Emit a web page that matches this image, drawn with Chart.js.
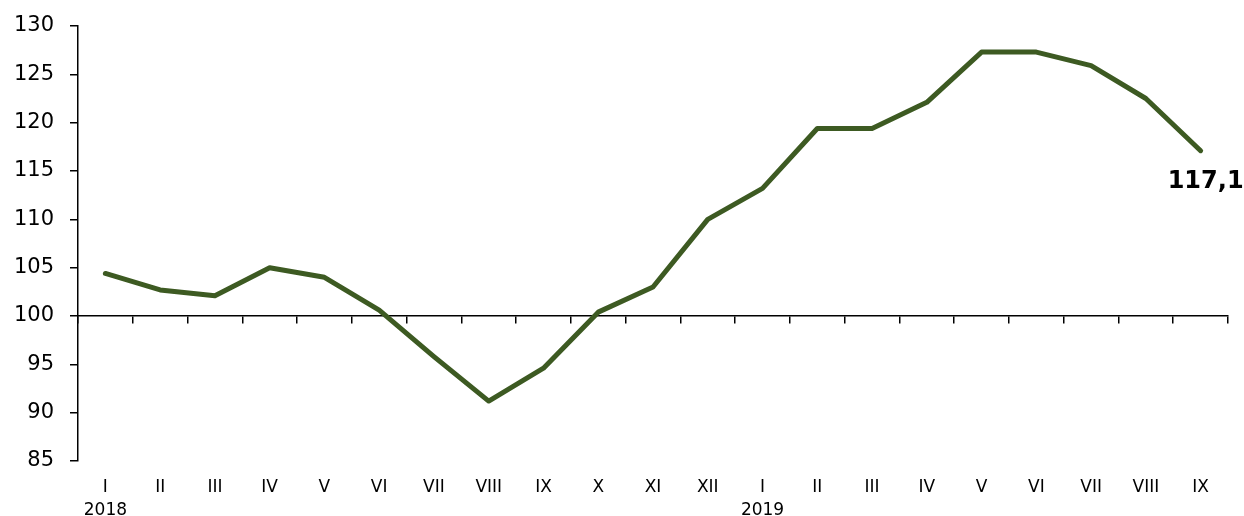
<!DOCTYPE html>
<html>
<head>
<meta charset="utf-8">
<script src="https://cdn.jsdelivr.net/npm/chart.js@4"></script>
<style>
    html, body { margin: 0; padding: 0; background: #ffffff; }
    #wrap { width: 1244px; height: 516px; position: relative; }
</style>
</head>
<body>
<div id="wrap"><canvas id="indexChart" width="1244" height="516"></canvas></div>
<script>
//********************************************************************************
///Data
//********************************************************************************
const months = ['I', 'II', 'III', 'IV', 'V', 'VI', 'VII', 'VIII', 'IX', 'X', 'XI', 'XII',
                'I', 'II', 'III', 'IV', 'V', 'VI', 'VII', 'VIII', 'IX'];
const years = ['2018', '', '', '', '', '', '', '', '', '', '', '',
               '2019', '', '', '', '', '', '', '', ''];
const indexValues = [104.4, 102.7, 102.1, 105.0, 104.0, 100.6, 95.8, 91.2, 94.6, 100.4, 103.0, 110.0,
                     113.2, 119.4, 119.4, 122.1, 127.3, 127.3, 125.9, 122.5, 117.1];
const lastLabel = '117,1';

// two-line tick labels: month on top, year below where needed
const axisLabels = months.map((m, i) => years[i] ? [m, years[i]] : m);

//********************************************************************************
///Last value label
//********************************************************************************
const lastValuePlugin = {
    id: 'lastValue',
    afterDatasetsDraw(chart) {
        const meta = chart.getDatasetMeta(0);
        const pt = meta.data[meta.data.length - 1];
        const ctx = chart.ctx;
        ctx.save();
        ctx.font = 'bold 24px "DejaVu Sans", Verdana, sans-serif';
        ctx.fillStyle = '#000000';
        ctx.textAlign = 'center';
        ctx.textBaseline = 'middle';
        ctx.fillText(lastLabel, pt.x + 5, pt.y + 31);
        ctx.restore();
    }
};

//********************************************************************************
///Chart
//********************************************************************************
const chart = new Chart(document.getElementById('indexChart'), {
    type: 'line',
    data: {
        labels: axisLabels,
        datasets: [{
            data: indexValues,
            borderColor: '#3d5a22',
            borderWidth: 5,
            pointRadius: 0,
            tension: 0,
            borderJoinStyle: 'round',
            borderCapStyle: 'round',
            xAxisID: 'x'
        }]
    },
    options: {
        responsive: false,
        animation: false,
        layout: { padding: { top: 26, right: 16, left: 4, bottom: 0 } },
        plugins: {
            legend: { display: false },
            tooltip: { enabled: false }
        },
        scales: {
            // axis line crossing at 100, only tick marks
            x: {
                type: 'category',
                position: { y: 100 },
                offset: true,
                afterFit: (scale) => { scale.height = 0; },
                grid: { drawOnChartArea: false, drawTicks: true, tickLength: 7, color: '#000000', lineWidth: 1.5, offset: true },
                border: { display: true, color: '#000000', width: 1.5 },
                ticks: { display: false }
            },
            // labels at the bottom
            x2: {
                type: 'category',
                position: 'bottom',
                labels: axisLabels,
                offset: true,
                afterFit: (scale) => { scale.height = 55; },
                grid: { display: false, drawTicks: false },
                border: { display: false },
                ticks: {
                    autoSkip: false,
                    maxRotation: 0,
                    color: '#000000',
                    padding: 16,
                    font: { family: '"DejaVu Sans", Verdana, sans-serif', size: 17, lineHeight: 1.3 }
                }
            },
            y: {
                min: 85,
                max: 130,
                afterFit: (scale) => { scale.width = 74; scale.paddingTop = 0; },
                grid: { drawOnChartArea: false, drawTicks: true, tickLength: 8, color: '#000000', lineWidth: 1.5 },
                border: { display: true, color: '#000000', width: 1.5 },
                ticks: {
                    stepSize: 5,
                    color: '#000000',
                    padding: 16,
                    font: { family: '"DejaVu Sans", Verdana, sans-serif', size: 21 }
                }
            }
        }
    },
    plugins: [lastValuePlugin]
});
</script>
</body>
</html>
